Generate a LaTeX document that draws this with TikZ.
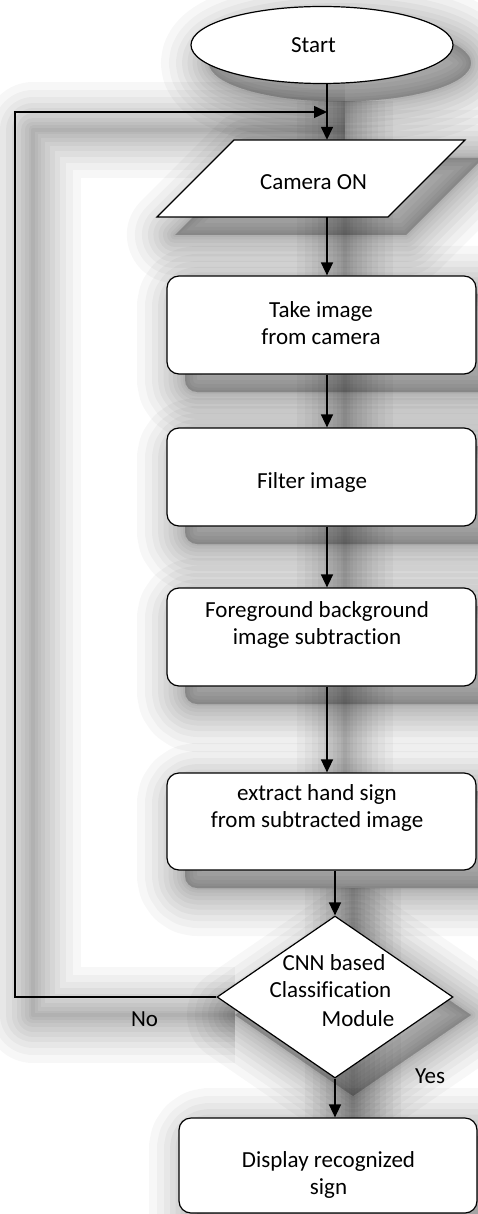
\documentclass[tikz,border=0pt]{standalone}
\usepackage{fontspec}
\setmainfont{Carlito}[Ligatures=NoCommon]
\usetikzlibrary{shapes.geometric,arrows.meta}
\tikzset{
  box/.style={draw, rounded corners=12pt, fill=white, line width=1.2pt, minimum width=309pt, minimum height=98pt, inner sep=0pt},
  txt/.style={align=center, inner sep=0pt, font=\fontsize{23}{27}\selectfont},
  flow/.style={line width=1.5pt, -{Triangle[length=13pt,width=12pt]}},
}
\newcommand{\shadowlayer}[2]{%
  \begin{scope}[shift={(18,18)}, line width=#1pt, draw=black, fill=black, draw opacity=#2, fill opacity=0.025, line join=round]
    \filldraw (322,45) ellipse [x radius=131, y radius=38.5];
    \filldraw (234,140) -- (465,140) -- (388,217) -- (157,217) -- cycle;
    \filldraw[rounded corners=12pt] (167,276) rectangle (476,374);
    \filldraw[rounded corners=12pt] (167,428) rectangle (476,526);
    \filldraw[rounded corners=12pt] (167,588) rectangle (476,686);
    \filldraw[rounded corners=12pt] (167,773) rectangle (476,870);
    \filldraw (335,916) -- (453,997) -- (335,1078) -- (217,997) -- cycle;
    \filldraw[rounded corners=12pt] (179,1118) rectangle (477,1213);
    \draw (327,83) -- (327,773);
    \draw (335,870) -- (335,1118);
    \draw (217,997) -- (15,997) -- (15,112) -- (327,112);
  \end{scope}}
\begin{document}
\begin{tikzpicture}[x=1pt,y=-1pt]
\useasboundingbox (0,0) rectangle (478,1214);
\clip (0,0) rectangle (478,1214);
\fill[white] (0,0) rectangle (478,1214);
% soft shadow
\shadowlayer{96}{0.03}
\shadowlayer{80}{0.03}
\shadowlayer{66}{0.03}
\shadowlayer{54}{0.035}
\shadowlayer{43}{0.035}
\shadowlayer{33}{0.035}
\shadowlayer{24}{0.035}
\shadowlayer{16}{0.035}
\shadowlayer{9}{0.035}
\shadowlayer{4}{0.035}
% shapes
\node[ellipse, draw, fill=white, line width=1.2pt, minimum width=262pt, minimum height=77pt, inner sep=0pt] (start) at (322,45) {};
\node[txt] (tstart) at (313.5,45) {Start};
\node[minimum width=308pt, minimum height=77pt, inner sep=0pt] (cam) at (311,178.5) {};
\draw[fill=white, line width=1.2pt] (234,140) -- (465,140) -- (388,217) -- (157,217) -- cycle;
\node[txt] (tcam) at (313.5,182) {Camera ON};
\node[box] (take) at (321.5,325) {};
\node[txt] (ttake) at (321,323.5) {Take image\\from camera};
\node[box] (filt) at (321.5,477) {};
\node[txt] (tfilt) at (312,482) {Filter image};
\node[box] (fg) at (321.5,637) {};
\node[txt] (tfg) at (317,625) {Foreground background\\image subtraction};
\node[box, minimum height=97pt] (ext) at (321.5,821.5) {};
\node[txt] (text) at (317,808) {extract hand sign\\from subtracted image};
\node[diamond, draw, fill=white, line width=1.2pt, minimum width=236pt, minimum height=162pt, inner sep=0pt] (dec) at (335,997) {};
\node[txt] (tdec1) at (334,963) {CNN based};
\node[txt] (tdec2) at (330.5,990) {Classification};
\node[txt] (tdec3) at (358,1019) {Module};
\node[box, minimum width=298pt, minimum height=95pt] (disp) at (328,1165.5) {};
\node[txt] (tdisp) at (328.5,1175) {Display recognized\\sign};
\node[txt] (tno) at (144.5,1019) {No};
\node[txt] (tyes) at (430,1076) {Yes};
% connectors
\coordinate (ax) at (327,0);
\coordinate (bx) at (335,0);
\coordinate (lx) at (15,0);
\coordinate (ly) at (0,112);
\coordinate (join) at (327,112);
\draw[flow] (ax |- start.south) -- (ax |- cam.north);
\draw[flow] (dec.west) -- (lx |- dec.west) -- (lx |- ly) -- (join);
\draw[flow] (ax |- cam.south) -- (ax |- take.north);
\draw[flow] (ax |- take.south) -- (ax |- filt.north);
\draw[flow] (ax |- filt.south) -- (ax |- fg.north);
\draw[flow] (ax |- fg.south) -- (ax |- ext.north);
\draw[flow] (bx |- ext.south) -- (dec.north);
\draw[flow] (dec.south) -- (bx |- disp.north);
\end{tikzpicture}
\end{document}
